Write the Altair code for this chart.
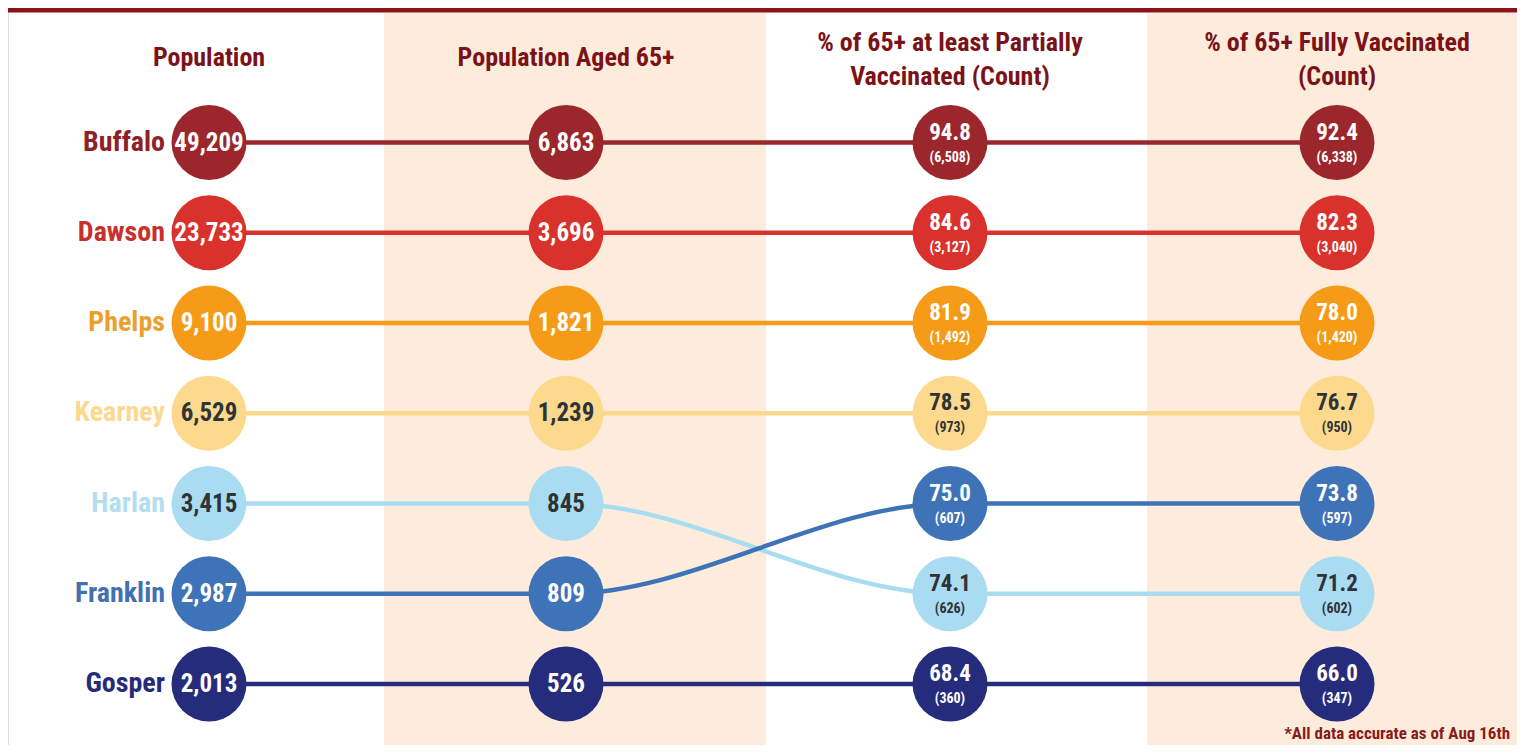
import altair as alt
import pandas as pd

counties = ["Buffalo", "Dawson", "Phelps", "Kearney", "Harlan", "Franklin", "Gosper"]
population = [49209, 23733, 9100, 6529, 3415, 2987, 2013]
pop65 = [6863, 3696, 1821, 1239, 845, 809, 526]
partial_pct = [94.8, 84.6, 81.9, 78.5, 74.1, 75.0, 68.4]
partial_count = [6508, 3127, 1492, 973, 626, 607, 360]
full_pct = [92.4, 82.3, 78.0, 76.7, 71.2, 73.8, 66.0]
full_count = [6338, 3040, 1420, 950, 602, 597, 347]

headers = ["Population", "Population Aged 65+",
           "% of 65+ at least Partially\nVaccinated (Count)",
           "% of 65+ Fully Vaccinated\n(Count)"]
footnote = "*All data accurate as of Aug 16th"

colors = ["#9b262c", "#d9322d", "#f59b17", "#fcd98c", "#a9dcf1", "#3f73b7", "#262c7c"]
label_colors = ["#8f2027", "#c9302c", "#eb9f2c", "#fbd990", "#b4ddef", "#4470b0", "#252b78"]
dark_text = ["Kearney", "Harlan"]

FONT = "Roboto Condensed"
HEAD = "#7b1218"

rows = []
cols = [
    (population, None),
    (pop65, None),
    (partial_pct, partial_count),
    (full_pct, full_count),
]
for ci, (vals, counts) in enumerate(cols):
    s = pd.Series(vals)
    ranks = s.rank(ascending=False, method="first").astype(int).tolist()
    for i, c in enumerate(counties):
        if counts is None:
            main = f"{vals[i]:,}"
            sub = ""
        else:
            main = f"{vals[i]:.1f}"
            sub = f"({counts[i]:,})"
        rows.append({"county": c, "col": ci, "rank": ranks[i], "main": main, "sub": sub,
                     "value": vals[i]})
df = pd.DataFrame(rows)

W, H = 1509, 737
xs = alt.Scale(domain=[0, 1, 2, 3], range=[201, 558, 942, 1329])
ys = alt.Scale(domain=[1, 7], range=[134.5, 676])
cs = alt.Scale(domain=counties, range=colors)

X = alt.X("col:Q", scale=xs, axis=None)
Y = alt.Y("rank:Q", scale=ys, axis=None)

bands = alt.Chart(pd.DataFrame({"b": [0]})).mark_rect(color="#fdecdc").encode(
    x=alt.value(376), x2=alt.value(758), y=alt.value(5), y2=alt.value(H))
bands2 = alt.Chart(pd.DataFrame({"b": [0]})).mark_rect(color="#fdecdc").encode(
    x=alt.value(1139), x2=alt.value(W), y=alt.value(5), y2=alt.value(H))

topline = alt.Chart(pd.DataFrame({"b": [0]})).mark_rule(color="#8b1216", strokeWidth=5).encode(
    x=alt.value(0), x2=alt.value(W), y=alt.value(2))

lines = alt.Chart(df).mark_line(interpolate="monotone", strokeWidth=4.5).encode(
    x=X, y=Y, color=alt.Color("county:N", scale=cs, legend=None), detail="county:N",
    order="col:Q")

circles = alt.Chart(df).mark_circle(size=5625, opacity=1).encode(
    x=X, y=Y, color=alt.Color("county:N", scale=cs, legend=None))

txtcolor = alt.condition(alt.FieldOneOfPredicate(field="county", oneOf=dark_text),
                         alt.value("#2f3338"), alt.value("white"))

single = alt.Chart(df).transform_filter("datum.col < 2").mark_text(
    font=FONT, fontSize=25, fontWeight="bold", baseline="middle", align="center").encode(
    x=X, y=Y, text="main:N", color=txtcolor)

main2 = alt.Chart(df).transform_filter("datum.col >= 2").mark_text(
    font=FONT, fontSize=23, fontWeight="bold", baseline="middle", align="center", dy=-10).encode(
    x=X, y=Y, text="main:N", color=txtcolor)

sub2 = alt.Chart(df).transform_filter("datum.col >= 2").mark_text(
    font=FONT, fontSize=14, fontWeight="bold", baseline="middle", align="center", dy=15).encode(
    x=X, y=Y, text="sub:N", color=txtcolor)

lab_df = df[df["col"] == 0]
labels = alt.Chart(lab_df).mark_text(
    font=FONT, fontSize=28, fontWeight="bold", baseline="middle", align="right", dx=-44).encode(
    x=X, y=Y, text="county:N",
    color=alt.Color("county:N", scale=alt.Scale(domain=counties, range=label_colors), legend=None))

hdf = pd.DataFrame({"col": [0, 1, 2, 3], "header": headers})
hdf["multi"] = hdf["header"].str.contains("\n")
head1 = alt.Chart(hdf[~hdf["multi"]]).mark_text(
    font=FONT, fontSize=26, fontWeight="bold", baseline="middle", align="center",
    color=HEAD).encode(x=X, y=alt.value(50), text="header:N")
head2 = alt.Chart(hdf[hdf["multi"]]).mark_text(
    font=FONT, fontSize=26, fontWeight="bold", baseline="middle", align="center",
    lineBreak="\n", lineHeight=34, color=HEAD).encode(
    x=X, y=alt.value(35), text="header:N")

foot = alt.Chart(pd.DataFrame({"t": [footnote]})).mark_text(
    font=FONT, fontSize=17, fontWeight="bold", align="right", baseline="bottom",
    color="#8b1a1a").encode(x=alt.value(1502), y=alt.value(735), text="t:N")

chart = alt.layer(bands, bands2, topline, lines, circles, single, main2, sub2, labels,
                  head1, head2, foot).resolve_scale(
    color="independent").properties(
    width=W, height=H, autosize=alt.AutoSizeParams(type="none"), padding=0
).configure_view(stroke=None).configure(background="white")

chart.save("out.html", embed_options={"renderer": "svg", "actions": False})
